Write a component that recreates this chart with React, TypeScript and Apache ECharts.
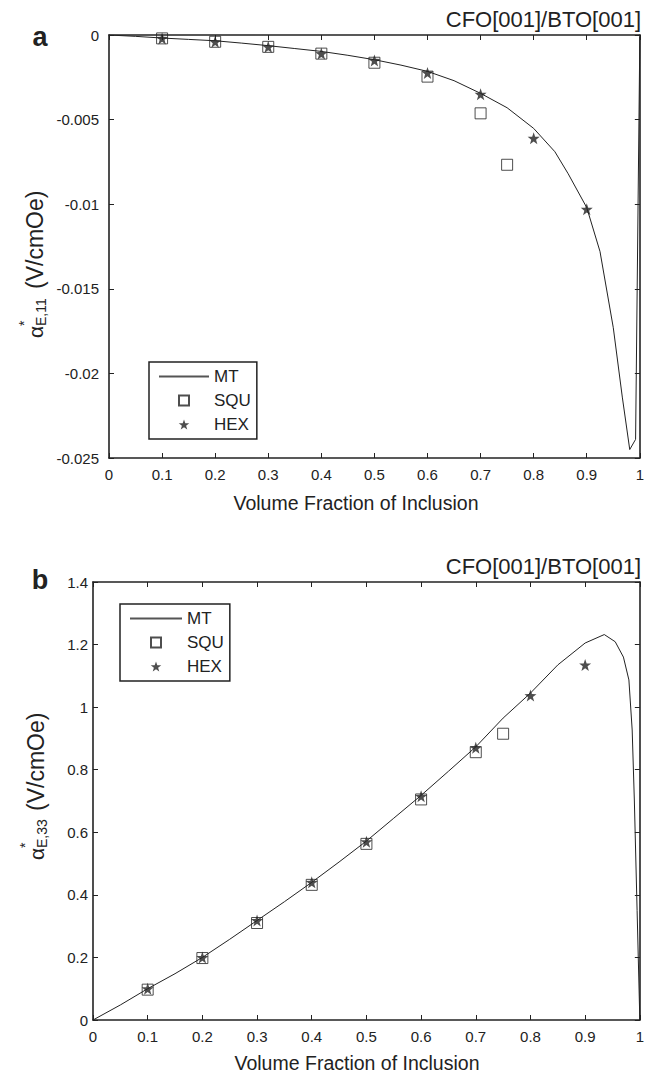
import React, { useEffect, useRef } from "react";
import * as echarts from "echarts";

// ---------- data ----------
const xTicks = [0, 0.1, 0.2, 0.3, 0.4, 0.5, 0.6, 0.7, 0.8, 0.9, 1];
const xTickLabels = ["0", "0.1", "0.2", "0.3", "0.4", "0.5", "0.6", "0.7", "0.8", "0.9", "1"];

const yTicksA = [-0.025, -0.02, -0.015, -0.01, -0.005, 0];
const yTickLabelsA = ["-0.025", "-0.02", "-0.015", "-0.01", "-0.005", "0"];
const yTicksB = [0, 0.2, 0.4, 0.6, 0.8, 1, 1.2, 1.4];
const yTickLabelsB = ["0", "0.2", "0.4", "0.6", "0.8", "1", "1.2", "1.4"];

// panel a : alpha*_E,11
const mtXA = [0, 0.05, 0.1, 0.15, 0.2, 0.25, 0.3, 0.35, 0.4, 0.45, 0.5, 0.55, 0.6, 0.65, 0.7, 0.75, 0.8, 0.84, 0.865, 0.9, 0.925, 0.95, 0.967, 0.981, 0.992, 1.0];
const mtYA = [0, -0.00008, -0.00018, -0.00026, -0.00034, -0.00048, -0.00063, -0.0008, -0.00097, -0.0012, -0.00146, -0.00178, -0.00215, -0.0027, -0.00345, -0.0043, -0.00552, -0.0069, -0.0082, -0.0102, -0.0128, -0.0173, -0.0214, -0.0245, -0.0239, -0.0001];
const squXA = [0.1, 0.2, 0.3, 0.4, 0.5, 0.6, 0.7, 0.75];
const squYA = [-0.0002, -0.0004, -0.0007, -0.0011, -0.00164, -0.00246, -0.00463, -0.00767];
const hexXA = [0.1, 0.2, 0.3, 0.4, 0.5, 0.6, 0.7, 0.8, 0.9];
const hexYA = [-0.0002, -0.0004, -0.0007, -0.0011, -0.0015, -0.00224, -0.0035, -0.0061, -0.0103];

// panel b : alpha*_E,33
const mtXB = [0, 0.05, 0.1, 0.15, 0.2, 0.25, 0.3, 0.35, 0.4, 0.45, 0.5, 0.55, 0.6, 0.65, 0.7, 0.75, 0.8, 0.85, 0.9, 0.935, 0.955, 0.97, 0.98, 0.986, 0.99, 0.995, 1.0];
const mtYB = [0, 0.048, 0.1, 0.148, 0.2, 0.258, 0.318, 0.378, 0.44, 0.505, 0.572, 0.645, 0.718, 0.795, 0.873, 0.965, 1.045, 1.135, 1.205, 1.232, 1.209, 1.16, 1.087, 0.927, 0.7, 0.35, 0];
const squXB = [0.1, 0.2, 0.3, 0.4, 0.5, 0.6, 0.7, 0.75];
const squYB = [0.097, 0.198, 0.31, 0.432, 0.563, 0.705, 0.856, 0.915];
const hexXB = [0.1, 0.2, 0.3, 0.4, 0.5, 0.6, 0.7, 0.8, 0.9];
const hexYB = [0.1, 0.2, 0.318, 0.44, 0.57, 0.715, 0.87, 1.037, 1.135];

const seriesNames = ["MT", "SQU", "HEX"];

// ---------- styles ----------
const FONT = "'Liberation Sans', Arial, Helvetica, sans-serif";
const INK = "#222";
const STAR =
  "path://M50,0L61.76,33.82L97.55,34.55L69.02,56.18L79.39,90.45L50,70L20.61,90.45L30.98,56.18L2.45,34.55L38.24,33.82Z";
const SQUARE = "path://M0,0L10,0L10,10L0,10Z";
const BAR = "path://M0,0L50,0L50,2L0,2Z";

const zip = (xs: number[], ys: number[]) => xs.map((x, i) => [x, ys[i]]);
const fmt = (ticks: number[], labels: string[]) => (v: number) => {
  const i = ticks.findIndex((t) => Math.abs(t - v) < 1e-9);
  return i >= 0 ? labels[i] : "";
};

const axisLine = { show: true, onZero: false, lineStyle: { color: INK, width: 1.6 } };
const axisTick = { show: true, inside: true, length: 5, lineStyle: { color: INK, width: 1 } };

function xAxes(grid: number, margin: number) {
  return [
    {
      gridIndex: grid, type: "value", position: "bottom", min: 0, max: 1, interval: 0.1,
      axisLine, axisTick, splitLine: { show: false },
      axisLabel: { formatter: fmt(xTicks, xTickLabels), color: INK, fontSize: 15, fontFamily: FONT, margin },
    },
    {
      gridIndex: grid, type: "value", position: "top", min: 0, max: 1, interval: 0.1,
      axisLine, axisTick, splitLine: { show: false }, axisLabel: { show: false },
    },
  ];
}
function yAxes(grid: number, min: number, max: number, interval: number, ticks: number[], labels: string[], margin: number) {
  return [
    {
      gridIndex: grid, type: "value", position: "left", min, max, interval,
      axisLine, axisTick, splitLine: { show: false },
      axisLabel: { formatter: fmt(ticks, labels), color: INK, fontSize: 15, fontFamily: FONT, margin },
    },
    {
      gridIndex: grid, type: "value", position: "right", min, max, interval,
      axisLine, axisTick, splitLine: { show: false }, axisLabel: { show: false },
    },
  ];
}

function panelSeries(xi: number, yi: number, mt: number[][], squ: number[][], hex: number[][]) {
  return [
    {
      name: "MT", type: "line", xAxisIndex: xi, yAxisIndex: yi, data: mt, symbol: "none", showSymbol: false,
      lineStyle: { color: INK, width: 1 }, itemStyle: { color: INK }, z: 2,
    },
    {
      name: "SQU", type: "scatter", xAxisIndex: xi, yAxisIndex: yi, data: squ, symbol: SQUARE, symbolSize: 11,
      itemStyle: { color: "rgba(0,0,0,0)", borderColor: INK, borderWidth: 1 }, z: 3,
    },
    {
      name: "HEX", type: "scatter", xAxisIndex: xi, yAxisIndex: yi, data: hex, symbol: STAR, symbolSize: 12,
      itemStyle: { color: INK }, z: 4,
    },
  ];
}

function legend(left: number, top: number, lineW: number) {
  return {
    data: [
      { name: seriesNames[0], icon: BAR, itemStyle: { color: "#555" } },
      { name: seriesNames[1], icon: SQUARE },
      { name: seriesNames[2], icon: STAR },
    ],
    orient: "vertical", left, top, itemWidth: lineW, itemHeight: 10, itemGap: 7,
    padding: [6, 6, 6, 10], borderColor: INK, borderWidth: 1.5, selectedMode: false,
    textStyle: { fontSize: 17, color: INK, fontFamily: FONT },
  };
}

function yLabel(x: number, y: number, sub: string) {
  return {
    type: "group", x, y, rotation: Math.PI / 2,
    children: [
      { type: "text", x: 0, y: 0, style: { text: "α", fontSize: 21, fontFamily: FONT, fill: INK, verticalAlign: "middle", align: "left" } },
      { type: "text", x: 12, y: -11, style: { text: "*", fontSize: 14, fontFamily: FONT, fill: INK, verticalAlign: "middle", align: "left" } },
      { type: "text", x: 12, y: 6, style: { text: sub, fontSize: 14, fontFamily: FONT, fill: INK, verticalAlign: "middle", align: "left" } },
      { type: "text", x: 49, y: 0, style: { text: "(V/cmOe)", fontSize: 23, fontFamily: FONT, fill: INK, verticalAlign: "middle", align: "left" } },
    ],
  };
}

function txt(x: number, y: number, text: string, fontSize: number, align: string, bold = false) {
  return {
    type: "text", x, y,
    style: { text, fontSize, fontFamily: FONT, fontWeight: bold ? "bold" : "normal", fill: INK, align, verticalAlign: "middle" },
  };
}

export default function App() {
  const ref = useRef<HTMLDivElement>(null);
  useEffect(() => {
    if (!ref.current) return;
    const chart = echarts.init(ref.current, null, { renderer: "svg" });
    chart.setOption({
      animation: false,
      backgroundColor: "#fff",
      grid: [
        { left: 109, top: 35, width: 536, height: 423 },
        { left: 93, top: 582, width: 553, height: 438 },
      ],
      xAxis: [...xAxes(0, 9), ...xAxes(1, 9)],
      yAxis: [
        ...yAxes(0, -0.025, 0, 0.005, yTicksA, yTickLabelsA, 10),
        ...yAxes(1, 0, 1.4, 0.2, yTicksB, yTickLabelsB, 5),
      ],
      legend: [legend(149, 362, 50), legend(120, 604, 52)],
      series: [
        ...panelSeries(0, 0, zip(mtXA, mtYA), zip(squXA, squYA), zip(hexXA, hexYA)),
        ...panelSeries(2, 2, zip(mtXB, mtYB), zip(squXB, squYB), zip(hexXB, hexYB)),
      ],
      graphic: [
        txt(40, 37, "a", 27, "center", true),
        txt(40, 580, "b", 27, "center", true),
        txt(641, 19, "CFO[001]/BTO[001]", 22, "right"),
        txt(641, 566, "CFO[001]/BTO[001]", 22, "right"),
        txt(356, 503, "Volume Fraction of Inclusion", 19.5, "center"),
        txt(357, 1063, "Volume Fraction of Inclusion", 19.5, "center"),
        yLabel(35, 338, "E,11"),
        yLabel(36, 860, "E,33"),
      ],
    });
    return () => chart.dispose();
  }, []);
  return <div ref={ref} style={{ position: "absolute", left: 0, top: 0, width: 647, height: 1075 }} />;
}
